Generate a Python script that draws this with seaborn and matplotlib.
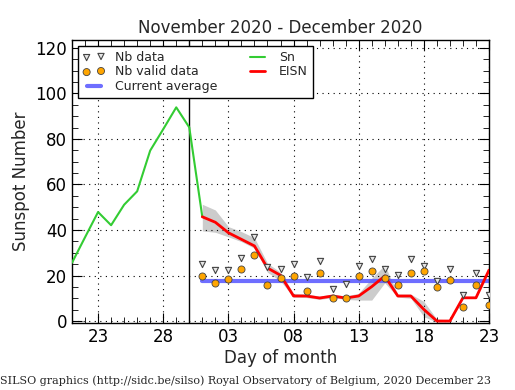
import numpy as np
import pandas as pd
import matplotlib
matplotlib.use("Agg")
import matplotlib.pyplot as plt
import matplotlib.dates as mdates
import seaborn as sns

# ---- data ----
sn_dates = pd.date_range("2020-11-21", "2020-12-01", freq="D")
sn_values = [25.6, 36.8, 47.9, 42.1, 51.1, 57.0, 74.9, 84.3, 93.9, 85.1, 45.8]

eisn_dates = pd.date_range("2020-12-01", "2020-12-23", freq="D")
eisn_values = [45.8, 43.4, 38.8, 35.9, 33.0, 23.3, 20.1, 11.0, 11.0, 10.1, 11.0, 10.1,
               11.0, 15.1, 19.8, 11.0, 11.0, 5.1, 0.0, 0.0, 10.2, 10.2, 22.4]
eisn_low = [39.6, 39.0, 37.0, 34.9, 32.0, 21.4, 17.6, 10.5, 10.3, 9.5, 10.3, 9.5,
            9.2, 9.2, 16.8, 10.5, 10.0, 1.9, -0.5, -0.5, 10.2, 10.2, 22.4]
eisn_high = [51.3, 48.8, 41.5, 39.3, 36.6, 25.4, 21.4, 12.2, 11.8, 11.0, 11.8, 11.0,
             12.2, 18.8, 24.6, 11.8, 11.8, 8.6, 0.8, 0.5, 10.2, 10.2, 22.4]
nb_data = [25.1, 22.3, 22.3, 27.8, 37.1, 23.9, 23.0, 25.1, 19.2, 26.2, 14.1, 16.1,
           24.0, 27.1, 23.0, 20.1, 27.1, 24.0, 17.4, 23.0, 11.4, 21.2, 11.3]
nb_valid = [19.9, 16.8, 18.3, 23.0, 29.1, 16.0, 18.9, 19.9, 13.1, 21.0, 10.0, 10.0,
            19.9, 22.1, 19.0, 16.0, 21.0, 22.1, 15.1, 18.2, 6.0, 16.0, 7.2]
current_average = 17.6
separator_date = pd.Timestamp("2020-11-30")

title = "November 2020 - December 2020"
footer = "SILSO graphics (http://sidc.be/silso) Royal Observatory of Belgium, 2020 December 23"

# ---- style ----
sns.set_style("ticks")
plt.rcParams.update({
    "font.family": ["DejaVu Sans"],
    "xtick.direction": "in", "ytick.direction": "in",
    "xtick.top": True, "ytick.right": True,
    "xtick.minor.visible": True, "ytick.minor.visible": True,
    "xtick.major.size": 7, "ytick.major.size": 7,
    "xtick.minor.size": 4, "ytick.minor.size": 4,
    "axes.edgecolor": "black", "axes.linewidth": 1.0,
    "xtick.color": "black", "ytick.color": "black",
})

fig = plt.figure(figsize=(5.15, 3.9), dpi=100)
ax = fig.add_axes([72/515, 1-323.3/390, (489-72)/515, (323.3-40)/390])

df_sn = pd.DataFrame({"date": sn_dates, "v": sn_values})
df_e = pd.DataFrame({"date": eisn_dates, "v": eisn_values, "lo": eisn_low, "hi": eisn_high,
                     "nb": nb_data, "nbv": nb_valid})

ax.fill_between(df_e["date"], df_e["lo"], df_e["hi"], color="#cccccc", lw=0, zorder=1)
sns.lineplot(data=df_sn, x="date", y="v", ax=ax, color="#33cc33", lw=1.5, label="Sn", zorder=3)
sns.lineplot(data=df_e, x="date", y="v", ax=ax, color="red", lw=2, label="EISN", zorder=4)
ax.plot([eisn_dates[0], eisn_dates[-1]], [current_average, current_average],
        color="#5555ff", alpha=0.85, lw=3, label="Current average", zorder=2)
sns.scatterplot(data=df_e, x="date", y="nb", ax=ax, marker="v", s=20, color="#e6e6e6",
                edgecolor="#444444", linewidth=0.8, label="Nb data", zorder=5)
sns.scatterplot(data=df_e, x="date", y="nbv", ax=ax, marker="o", s=26, color="orange",
                edgecolor="#444444", linewidth=0.6, label="Nb valid data", zorder=5)
ax.axvline(separator_date, color="black", lw=1, zorder=2)

ax.set_xlim(pd.Timestamp("2020-11-21"), pd.Timestamp("2020-12-23"))
ax.set_ylim(-1, 123.5)
ax.set_yticks(np.arange(0, 121, 20))
ax.yaxis.set_minor_locator(matplotlib.ticker.MultipleLocator(5))
ax.xaxis.set_major_locator(mdates.DayLocator(bymonthday=[3, 8, 13, 18, 23, 28]))
ax.xaxis.set_minor_locator(mdates.DayLocator())
ax.xaxis.set_major_formatter(mdates.DateFormatter("%d"))
ax.tick_params(labelsize=12)
ax.grid(True, which="major", color="black", linestyle=(0, (1, 4)), lw=0.8)
ax.set_axisbelow(False)

ax.set_title(title, fontsize=12, pad=5)
ax.set_xlabel("Day of month", fontsize=12, labelpad=2)
ax.set_ylabel("Sunspot Number", fontsize=12)

h, l = ax.get_legend_handles_labels()
order = ["Nb data", "Nb valid data", "Current average", "Sn", "EISN"]
hs = [h[l.index(o)] for o in order]
leg = ax.legend(hs, order, loc="upper left", ncol=2, fontsize=9, numpoints=2,
                scatterpoints=2, frameon=True, fancybox=False, edgecolor="black",
                framealpha=1, borderaxespad=0.45, handlelength=1.75, columnspacing=2.3,
                handletextpad=0.85, labelspacing=0.12, borderpad=0.42)
leg.get_frame().set_linewidth(1.0)

fig.text(0.0, 1-381/390, footer, family="DejaVu Serif", fontsize=8, va="center", ha="left")

fig.savefig("out.png", dpi=100)
